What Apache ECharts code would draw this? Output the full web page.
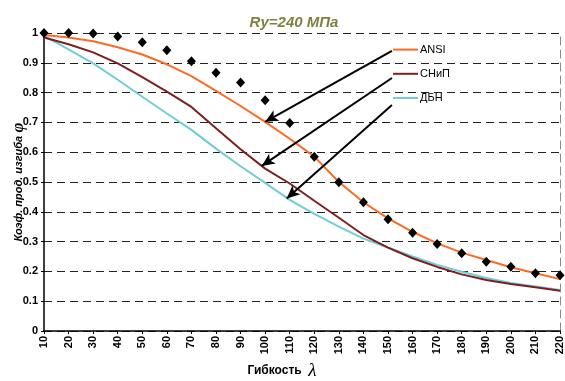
<!DOCTYPE html>
<html>
<head>
<meta charset="utf-8">
<script src="https://cdn.jsdelivr.net/npm/echarts@6/dist/echarts.min.js"></script>
<style>html,body{margin:0;padding:0;background:#fff}#c{width:565px;height:381px}</style>
</head>
<body>
<div id="c"></div>
<script>
const lambdas = [10,20,30,40,50,60,70,80,90,100,110,120,130,140,150,160,170,180,190,200,210,220];
const ansi  = [0.993,0.985,0.972,0.952,0.928,0.895,0.855,0.806,0.755,0.702,0.645,0.585,0.500,0.432,0.378,0.333,0.294,0.263,0.238,0.214,0.194,0.174];
const snip  = [0.985,0.962,0.935,0.898,0.852,0.803,0.752,0.680,0.610,0.545,0.495,0.437,0.380,0.322,0.280,0.244,0.215,0.190,0.171,0.158,0.147,0.135];
const dbn   = [0.990,0.945,0.898,0.843,0.786,0.730,0.675,0.612,0.553,0.497,0.440,0.393,0.350,0.310,0.280,0.250,0.222,0.199,0.178,0.161,0.149,0.138];
const points = [1.000,1.000,0.998,0.988,0.969,0.942,0.905,0.867,0.834,0.774,0.698,0.585,0.499,0.432,0.375,0.330,0.292,0.261,0.232,0.216,0.194,0.187];
const yTicks = [0,0.1,0.2,0.3,0.4,0.5,0.6,0.7,0.8,0.9,1];
// arrow annotations: [from legend (data coords), to curve point (data coords)]
const arrowAnsi = [[151.6,0.940],[100,0.702]];
const arrowSnip = [[151.6,0.849],[98.6,0.554]];
const arrowDbn  = [[151.6,0.758],[108.8,0.445]];

const pair = (xs, ys) => xs.map((x,i)=>[x, ys[i]]);
const FONT = 'Liberation Sans, Arial, sans-serif';
const arrowLine = (a) => [{coord:a[0]},{coord:a[1]}];

const chart = echarts.init(document.getElementById('c'), null, {renderer:'canvas'});
chart.setOption({
  animation:false,
  backgroundColor:'#fff',
  textStyle:{fontFamily:FONT},
  title:{
    text:'Ry=240 МПа', left:294, top:15, textAlign:'center', padding:0,
    textStyle:{fontFamily:FONT, fontSize:15, fontStyle:'italic', fontWeight:'bold', color:'#808040'}
  },
  legend:{
    orient:'vertical', left:392, top:44, padding:0,
    itemWidth:25, itemHeight:14, itemGap:13, itemStyle:{opacity:0},
    data:['ANSI','СНиП','ДБН'],
    textStyle:{fontFamily:FONT, fontSize:11, color:'#000', padding:[0,0,0,-3]}
  },
  grid:{left:44, right:5, top:33, bottom:50, containLabel:false, outerBoundsMode:'none'},
  xAxis:{
    type:'value', min:10, max:220, interval:10,
    name:'{a|Гибкость}  {b|λ}', nameLocation:'middle', nameGap:30, nameMoveOverlap:false,
    nameTextStyle:{padding:[0,40,0,0], rich:{
      a:{fontFamily:FONT, fontSize:12, fontWeight:'bold', color:'#000'},
      b:{fontFamily:'Liberation Serif, Times New Roman, serif', fontSize:19, fontStyle:'italic', color:'#000'}
    }},
    axisLine:{onZero:false, lineStyle:{color:'#000', width:1.5}},
    axisTick:{length:3, lineStyle:{color:'#000'}},
    axisLabel:{rotate:90, fontFamily:FONT, fontSize:11, fontWeight:'bold', color:'#000', margin:5},
    splitLine:{show:false}
  },
  yAxis:[{
    type:'value', min:0, max:1, interval:0.1,
    name:'{a|Коэф. прод. изгиба} {b|φ}', nameLocation:'middle', nameGap:17, nameMoveOverlap:false,
    nameTextStyle:{rich:{
      a:{fontFamily:FONT, fontSize:11, fontWeight:'bold', fontStyle:'italic', color:'#000'},
      b:{fontFamily:'Liberation Serif, Times New Roman, serif', fontSize:17, fontWeight:'bold', fontStyle:'italic', color:'#000'}
    }},
    axisLine:{show:true, lineStyle:{color:'#000', width:1.5}},
    axisTick:{show:true, length:3, lineStyle:{color:'#000'}},
    axisLabel:{fontFamily:FONT, fontSize:11, fontWeight:'bold', color:'#000', margin:6,
      formatter:(v)=>{const t=yTicks.find(k=>Math.abs(k-v)<1e-6); return t===undefined?'':String(t);}},
    splitLine:{show:true, lineStyle:{color:'#222', width:1, type:[8,5]}}
  },{
    type:'value', min:0, max:1, position:'right',
    axisLine:{show:true, lineStyle:{color:'#888', width:1, type:[8,5]}},
    axisTick:{show:false}, axisLabel:{show:false}, splitLine:{show:false}
  }],
  series:[
    {name:'ANSI', type:'line', data:pair(lambdas, ansi), symbol:'none', z:3,
      lineStyle:{color:'#FF6A22', width:2}, itemStyle:{color:'#FF6A22'},
      markLine:{silent:true, symbol:['none','arrow'], symbolSize:[9,13], label:{show:false},
        lineStyle:{color:'#000', width:2, type:'solid'}, data:[arrowLine(arrowAnsi)]}},
    {name:'СНиП', type:'line', data:pair(lambdas, snip), symbol:'none', z:3,
      lineStyle:{color:'#7F1E1E', width:2}, itemStyle:{color:'#7F1E1E'},
      markLine:{silent:true, symbol:['none','arrow'], symbolSize:[9,13], label:{show:false},
        lineStyle:{color:'#000', width:2, type:'solid'}, data:[arrowLine(arrowSnip)]}},
    {name:'ДБН', type:'line', data:pair(lambdas, dbn), symbol:'none', z:2,
      lineStyle:{color:'#70CCD8', width:2}, itemStyle:{color:'#70CCD8'},
      markLine:{silent:true, symbol:['none','arrow'], symbolSize:[9,13], label:{show:false},
        lineStyle:{color:'#000', width:2, type:'solid'}, data:[arrowLine(arrowDbn)]}},
    {name:'points', type:'scatter', data:pair(lambdas, points), symbol:'diamond', symbolSize:[9,10], z:4,
      itemStyle:{color:'#000', opacity:1}}
  ]
});
</script>
</body>
</html>
